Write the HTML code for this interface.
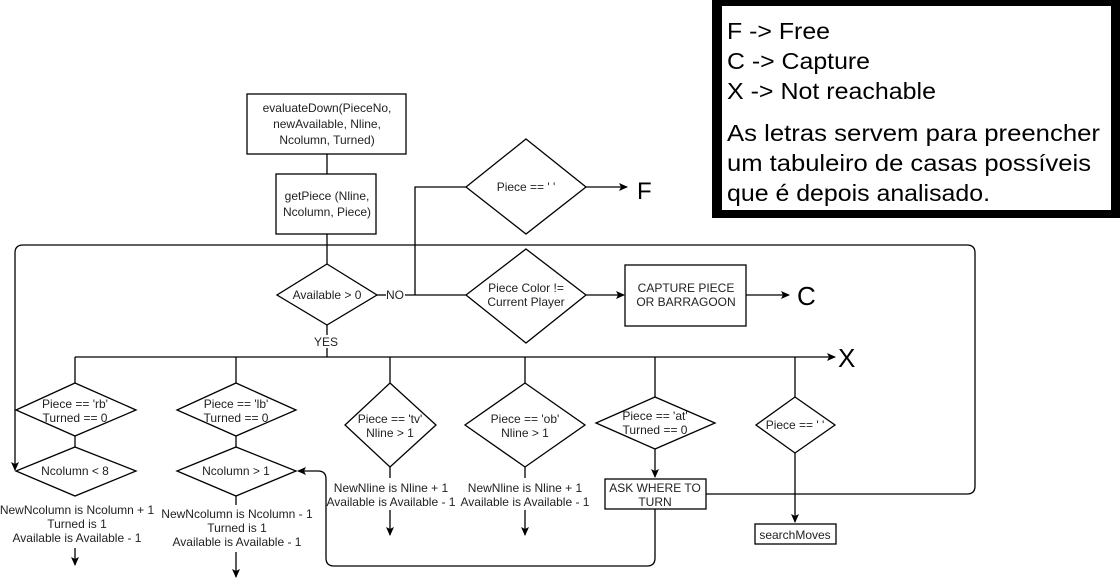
<!DOCTYPE html>
<html><head><meta charset="utf-8"><style>
html,body{margin:0;padding:0;background:#fff;}
svg{display:block;font-family:"Liberation Sans",Arial,sans-serif;}
text{font-size:12px;fill:#222;}
</style></head><body>
<svg width="1120" height="585" viewBox="0 0 1120 585" xmlns="http://www.w3.org/2000/svg">
<defs><marker id="a" markerWidth="10" markerHeight="10" refX="8" refY="4" orient="auto" markerUnits="userSpaceOnUse"><path d="M0,0 L9,4 L0,8 L2,4 Z" fill="#000"/></marker></defs>
<g stroke="#000" stroke-width="1.3" fill="none">
<rect x="247" y="94" width="159" height="60" fill="#fff"/>
<rect x="276" y="174" width="100" height="60" fill="#fff"/>
<line x1="327" y1="154" x2="327" y2="174"/>
<line x1="327" y1="234" x2="327" y2="264"/>
<path d="M605,494 H967 Q975,494 975,486 V253 Q975,245 967,245 H23 Q15,245 15,253 V470" marker-end="url(#a)"/>
<polygon points="327,264 377,295 327,325 277,295" fill="#fff"/>
<line x1="377" y1="295" x2="386" y2="295"/>
<line x1="405" y1="295" x2="466" y2="295"/>
<path d="M415,295 V187 H466"/>
<polygon points="526,139 586,187 526,234 466,187" fill="#fff"/>
<line x1="586" y1="187" x2="627" y2="187" marker-end="url(#a)"/>
<polygon points="526,249 586,295 526,343 466,295" fill="#fff"/>
<line x1="586" y1="295" x2="624" y2="295" marker-end="url(#a)"/>
<rect x="625" y="265" width="121" height="61" fill="#fff"/>
<line x1="746" y1="295" x2="789" y2="295" marker-end="url(#a)"/>
<line x1="327" y1="325" x2="327" y2="335"/>
<line x1="327" y1="348" x2="327" y2="357"/>
<line x1="75" y1="357" x2="835" y2="357" marker-end="url(#a)"/>
<line x1="75" y1="357" x2="75" y2="383"/>
<line x1="236" y1="357" x2="236" y2="383"/>
<line x1="390" y1="357" x2="390" y2="383"/>
<line x1="525" y1="357" x2="525" y2="383"/>
<line x1="655" y1="357" x2="655" y2="397"/>
<line x1="795" y1="357" x2="795" y2="397"/>
<polygon points="75,383 136,410 75,436 16,410" fill="#fff"/>
<line x1="75" y1="436" x2="75" y2="447"/>
<polygon points="75,447 136,471 75,496 16,471" fill="#fff"/>
<line x1="75" y1="548" x2="75" y2="565" marker-end="url(#a)"/>
<polygon points="236,383 296,410 236,436 177,410" fill="#fff"/>
<line x1="236" y1="436" x2="236" y2="447"/>
<polygon points="236,447 296,471 236,496 177,471" fill="#fff"/>
<line x1="236" y1="496" x2="236" y2="505"/>
<line x1="236" y1="552" x2="236" y2="577" marker-end="url(#a)"/>
<polygon points="390,383 436,425 390,467 345,425" fill="#fff"/>
<line x1="390" y1="467" x2="390" y2="478"/>
<line x1="390" y1="510" x2="390" y2="535" marker-end="url(#a)"/>
<polygon points="525,383 585,425 525,467 465,425" fill="#fff"/>
<line x1="525" y1="467" x2="525" y2="478"/>
<line x1="525" y1="510" x2="525" y2="535" marker-end="url(#a)"/>
<polygon points="655,397 715,423 655,449 596,423" fill="#fff"/>
<line x1="655" y1="449" x2="655" y2="477" marker-end="url(#a)"/>
<rect x="605" y="479" width="101" height="30" fill="#fff"/>
<path d="M655,509 V558 Q655,566 647,566 H334 Q326,566 326,558 V479 Q326,471 318,471 H298" marker-end="url(#a)"/>
<polygon points="795,397 835,425 795,453 756,425" fill="#fff"/>
<line x1="795" y1="453" x2="795" y2="522" marker-end="url(#a)"/>
<rect x="755" y="524" width="81" height="20" fill="#fff"/>
</g>
<g text-anchor="middle">
<text x="327" y="112">evaluateDown(PieceNo,</text>
<text x="327" y="128">newAvailable, Nline,</text>
<text x="327" y="144">Ncolumn, Turned)</text>
<text x="327" y="200">getPiece (Nline,</text>
<text x="327" y="216">Ncolumn, Piece)</text>
<text x="526" y="191">Piece == '  '</text>
<text x="327" y="299">Available &gt; 0</text>
<text x="395" y="299">NO</text>
<text x="326" y="346">YES</text>
<text x="526" y="292">Piece Color !=</text>
<text x="526" y="306">Current Player</text>
<text x="686" y="292">CAPTURE PIECE</text>
<text x="686" y="306">OR BARRAGOON</text>
<text x="75" y="408">Piece == 'rb'</text>
<text x="75" y="422">Turned == 0</text>
<text x="75" y="475">Ncolumn &lt; 8</text>
<text x="77" y="514">NewNcolumn is Ncolumn + 1</text>
<text x="77" y="528">Turned is 1</text>
<text x="77" y="542">Available is Available - 1</text>
<text x="236" y="408">Piece == 'lb'</text>
<text x="236" y="422">Turned == 0</text>
<text x="236" y="475">Ncolumn &gt; 1</text>
<text x="237" y="518">NewNcolumn is Ncolumn - 1</text>
<text x="237" y="532">Turned is 1</text>
<text x="237" y="546">Available is Available - 1</text>
<text x="390" y="423">Piece == 'tv'</text>
<text x="390" y="437">Nline &gt; 1</text>
<text x="391" y="492">NewNline is Nline + 1</text>
<text x="391" y="506">Available is Available - 1</text>
<text x="525" y="423">Piece == 'ob'</text>
<text x="525" y="437">Nline &gt; 1</text>
<text x="525" y="492">NewNline is Nline + 1</text>
<text x="525" y="506">Available is Available - 1</text>
<text x="655" y="420">Piece == 'at'</text>
<text x="655" y="434">Turned == 0</text>
<text x="655" y="492">ASK WHERE TO</text>
<text x="655" y="506">TURN</text>
<text x="795" y="429">Piece == '  '</text>
<text x="795" y="539">searchMoves</text>
</g>
<text x="637" y="199" style="font-size:24px;fill:#000">F</text>
<text x="797" y="305" style="font-size:26px;fill:#000">C</text>
<text x="838" y="367" style="font-size:26px;fill:#000">X</text>
<rect x="712" y="0" width="408" height="218" fill="#000"/>
<rect x="722" y="6" width="389" height="204" fill="#fff"/>
<g style="font-size:23px">
<text x="727" y="39" textLength="103" lengthAdjust="spacingAndGlyphs" style="font-size:23px;fill:#000">F -&gt; Free</text>
<text x="727" y="69" textLength="143" lengthAdjust="spacingAndGlyphs" style="font-size:23px;fill:#000">C -&gt; Capture</text>
<text x="727" y="99" textLength="209" lengthAdjust="spacingAndGlyphs" style="font-size:23px;fill:#000">X -&gt; Not reachable</text>
<text x="727" y="141" textLength="373" lengthAdjust="spacingAndGlyphs" style="font-size:23px;fill:#000">As letras servem para preencher</text>
<text x="727" y="171" textLength="364" lengthAdjust="spacingAndGlyphs" style="font-size:23px;fill:#000">um tabuleiro de casas possíveis</text>
<text x="727" y="201" textLength="263" lengthAdjust="spacingAndGlyphs" style="font-size:23px;fill:#000">que é depois analisado.</text>
</g>
</svg>
</body></html>
